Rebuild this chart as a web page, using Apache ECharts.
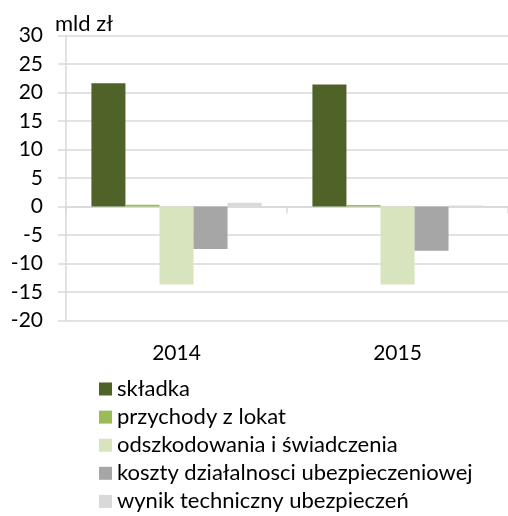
<!DOCTYPE html>
<html>
<head>
<meta charset="utf-8">
<script src="https://cdn.jsdelivr.net/npm/echarts@6/dist/echarts.min.js"></script>
<style>
  html, body { margin: 0; padding: 0; background: #fff; }
  #chart { width: 508px; height: 516px; }
</style>
</head>
<body>
<div id="chart"></div>
<script>
// Wyniki ubezpieczeń w latach 2014–2015 (mld zł)
const years = ['2014', '2015'];
const seriesNames = [
  'składka',
  'przychody z lokat',
  'odszkodowania i świadczenia',
  'koszty działalnosci ubezpieczeniowej',
  'wynik techniczny ubezpieczeń'
];
const skladka = [21.6, 21.4];
const przychody = [0.3, 0.25];
const odszkodowania = [-13.7, -13.7];
const koszty = [-7.5, -7.8];
const wynik = [0.65, 0.15];
const yTicks = { min: -20, max: 30, step: 5 };

const colors = ['#4f6228', '#9bbb59', '#d7e4bd', '#a6a6a6', '#d9d9d9'];
const values = [skladka, przychody, odszkodowania, koszty, wynik];
const font = 'Lato, "Noto Sans", sans-serif';
const gridColor = '#d9d9d9';

const chart = echarts.init(document.getElementById('chart'), null, { renderer: 'canvas' });

chart.setOption({
  animation: false,
  color: colors,
  textStyle: { fontFamily: font, color: '#000' },
  title: {
    text: 'mld zł',
    left: 50,
    top: 8,
    textStyle: { fontFamily: font, fontSize: 22, fontWeight: 'normal', color: '#000' }
  },
  legend: {
    orient: 'vertical',
    left: 99,
    top: 378,
    height: 150,
    padding: 0,
    itemWidth: 13,
    itemHeight: 13,
    itemGap: 6.1,
    icon: 'rect',
    data: seriesNames,
    textStyle: { fontFamily: font, fontSize: 22, color: '#000', lineHeight: 22 }
  },
  grid: { left: 66, right: -8, top: 35.5, bottom: 195.7 },
  xAxis: [
    {
      type: 'category',
      data: years,
      position: 'bottom',
      axisLine: { show: false, onZero: false },
      axisTick: { show: false },
      axisLabel: { margin: 22, fontSize: 21, color: '#000', fontFamily: font }
    },
    {
      type: 'category',
      data: years,
      position: 'top',
      axisLine: { show: true, onZero: true, lineStyle: { color: gridColor, width: 1.5 } },
      axisTick: { show: true, inside: true, length: 7, lineStyle: { color: gridColor, width: 1.5 } },
      axisLabel: { show: false }
    }
  ],
  yAxis: {
    type: 'value',
    min: yTicks.min,
    max: yTicks.max,
    interval: yTicks.step,
    axisLine: { show: true, lineStyle: { color: gridColor, width: 1.5 } },
    axisTick: { show: true, length: 8, lineStyle: { color: gridColor, width: 1.5 } },
    splitLine: { lineStyle: { color: gridColor, width: 1.5 } },
    axisLabel: { margin: 23, fontSize: 21, color: '#000', fontFamily: font }
  },
  series: seriesNames.map((name, i) => ({
    name: name,
    type: 'bar',
    xAxisIndex: 0,
    data: values[i],
    barGap: '0%',
    barCategoryGap: '23%',
    itemStyle: { color: colors[i] }
  }))
});
</script>
</body>
</html>
